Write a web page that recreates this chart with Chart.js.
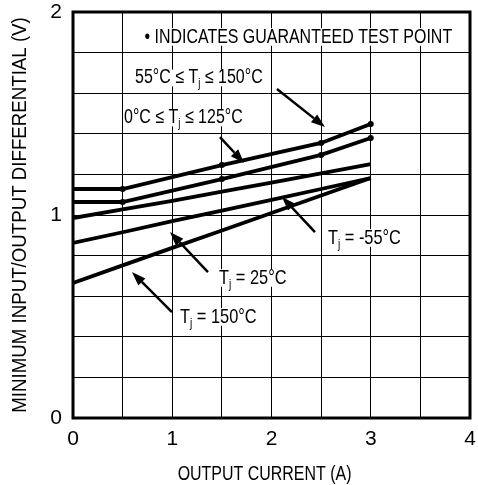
<!DOCTYPE html>
<html>
<head>
<meta charset="utf-8">
<script src="https://cdn.jsdelivr.net/npm/chart.js@4.4.0/dist/chart.umd.min.js"></script>
<style>
  html, body { margin: 0; padding: 0; background: #fff; }
  #wrap { width: 478px; height: 485px; position: relative; }
</style>
</head>
<body>
<div id="wrap"><canvas id="chart"></canvas></div>
<script>
'use strict';

// output current (A) where each curve was read
const X_TEST = [0, 0.5, 1.5, 2.5, 3];
const X_LIN = [0, 0.5, 1, 1.5, 2, 2.5, 3];

// minimum input/output differential (V)
const V_55_150 = [1.128, 1.128, 1.246, 1.355, 1.448];
const V_0_125 = [1.064, 1.064, 1.177, 1.296, 1.379];
const V_M55 = [0.985, 1.028, 1.07, 1.115, 1.16, 1.205, 1.251];
const V_25 = [0.862, 0.915, 0.97, 1.022, 1.075, 1.128, 1.182];
const V_150 = [0.665, 0.752, 0.838, 0.924, 1.01, 1.096, 1.182];

// test points are marked on the upper two curves (not at 0 A)
const TEST_RADIUS = [0, 3, 3, 3, 3];

const X_TICK_LABELS = ['0', '1', '2', '3', '4'];
const Y_TICK_LABELS = ['0', '1', '2'];

const X_TITLE = 'OUTPUT CURRENT (A)';
const Y_TITLE = 'MINIMUM INPUT/OUTPUT DIFFERENTIAL (V)';

const FONT = "'Liberation Sans', Arial, sans-serif";

// annotation labels in data units; the second part is the subscript
const NOTES = [
  { parts: ['\u2022 INDICATES GUARANTEED TEST POINT'], x: 0.72, y: 1.877, size: 21, sq: 0.76 },
  { parts: ['55\u00b0C \u2264 T', 'j', ' \u2264 150\u00b0C'], x: 0.625, y: 1.675, size: 20, sq: 0.8 },
  { parts: ['0\u00b0C \u2264 T', 'j', ' \u2264 125\u00b0C'], x: 0.514, y: 1.478, size: 20, sq: 0.8 },
  { parts: ['T', 'j', ' = -55\u00b0C'], x: 2.569, y: 0.887, size: 21, sq: 0.78 },
  { parts: ['T', 'j', ' = 25\u00b0C'], x: 1.471, y: 0.69, size: 21, sq: 0.78 },
  { parts: ['T', 'j', ' = 150\u00b0C'], x: 1.078, y: 0.4975, size: 21, sq: 0.78 }
];

// arrows in data units: from -> to (head at "to")
const ARROWS = [
  [2.055, 1.621, 2.539, 1.433],
  [1.481, 1.384, 1.723, 1.256],
  [2.438, 0.916, 2.106, 1.089],
  [1.36, 0.719, 0.977, 0.916],
  [0.997, 0.522, 0.594, 0.719]
];

function pts(xs, ys) {
  return xs.map((x, i) => ({ x: x, y: ys[i] }));
}

function curve(xs, ys, radius) {
  return {
    data: pts(xs, ys),
    borderColor: '#000',
    backgroundColor: '#000',
    borderWidth: 3.8,
    pointRadius: radius || 0,
    pointBorderWidth: 0,
    tension: 0,
    fill: false
  };
}

// the original uses a condensed face; squeeze Liberation Sans to match
function squeezedText(ctx, text, x, y, size, squeeze) {
  ctx.save();
  ctx.font = size + 'px ' + FONT;
  ctx.translate(x, y);
  ctx.scale(squeeze, 1);
  ctx.fillText(text, 0, 0);
  ctx.restore();
}

const annotations = {
  id: 'annotations',
  afterDraw(chart) {
    const ctx = chart.ctx;
    const xs = chart.scales.x;
    const ys = chart.scales.y;
    const area = chart.chartArea;
    ctx.save();
    // heavy frame
    ctx.strokeStyle = '#000';
    ctx.lineWidth = 3;
    ctx.strokeRect(area.left, area.top, area.right - area.left, area.bottom - area.top);

    // arrows
    ctx.lineWidth = 2.5;
    ctx.fillStyle = '#000';
    for (const a of ARROWS) {
      const x1 = xs.getPixelForValue(a[0]), y1 = ys.getPixelForValue(a[1]);
      const x2 = xs.getPixelForValue(a[2]), y2 = ys.getPixelForValue(a[3]);
      const ang = Math.atan2(y2 - y1, x2 - x1);
      const hl = 14, hw = 5;
      const bx = x2 - hl * Math.cos(ang), by = y2 - hl * Math.sin(ang);
      ctx.beginPath();
      ctx.moveTo(x1, y1);
      ctx.lineTo(bx, by);
      ctx.stroke();
      ctx.beginPath();
      ctx.moveTo(x2, y2);
      ctx.lineTo(bx + hw * Math.sin(ang), by - hw * Math.cos(ang));
      ctx.lineTo(bx - hw * Math.sin(ang), by + hw * Math.cos(ang));
      ctx.closePath();
      ctx.fill();
    }

    // labels, with white knock-out behind them
    ctx.textBaseline = 'middle';
    ctx.textAlign = 'left';
    for (const n of NOTES) {
      let px = xs.getPixelForValue(n.x);
      const py = ys.getPixelForValue(n.y);
      n.parts.forEach((t, i) => {
        const sub = i === 1;
        const size = sub ? Math.round(n.size * 0.6) : n.size;
        ctx.font = size + 'px ' + FONT;
        const w = ctx.measureText(t).width * n.sq;
        ctx.fillStyle = '#fff';
        ctx.fillRect(px, py - n.size * 0.42, w, n.size * 0.84);
        ctx.fillStyle = '#000';
        squeezedText(ctx, t, px, sub ? py + n.size * 0.3 : py, size, n.sq);
        px += w;
      });
    }

    // axis titles
    ctx.textAlign = 'center';
    squeezedText(ctx, X_TITLE, xs.getPixelForValue(1.93), 474, 21, 0.76);
    ctx.save();
    ctx.translate(20, (area.top + area.bottom) / 2);
    ctx.rotate(-Math.PI / 2);
    squeezedText(ctx, Y_TITLE, 0, 0, 21, 0.89);
    ctx.restore();
    ctx.restore();
  }
};

new Chart(document.getElementById('chart'), {
  type: 'line',
  data: {
    datasets: [
      curve(X_TEST, V_55_150, TEST_RADIUS),
      curve(X_TEST, V_0_125, TEST_RADIUS),
      curve(X_LIN, V_M55),
      curve(X_LIN, V_25),
      curve(X_LIN, V_150)
    ]
  },
  options: {
    responsive: true,
    maintainAspectRatio: false,
    animation: false,
    layout: { padding: { top: 12, right: 8, left: 0, bottom: 0 } },
    plugins: { legend: { display: false }, tooltip: { enabled: false } },
    scales: {
      x: {
        type: 'linear',
        min: 0,
        max: 4,
        afterFit(s) {
          s.height = 67;
          s.paddingLeft = 0;
          s.paddingRight = 0;
        },
        border: { display: false },
        grid: { color: '#000', lineWidth: 1, drawTicks: false },
        ticks: {
          stepSize: 0.5,
          padding: 9,
          color: '#000',
          font: { family: FONT, size: 21 },
          maxRotation: 0,
          autoSkip: false,
          callback(v) {
            const i = X_TICK_LABELS.indexOf(String(v));
            return i >= 0 ? X_TICK_LABELS[i] : '';
          }
        }
      },
      y: {
        type: 'linear',
        min: 0,
        max: 2,
        afterFit(s) {
          s.width = 73;
          s.paddingTop = 0;
          s.paddingBottom = 0;
        },
        border: { display: false },
        grid: { color: '#000', lineWidth: 1, drawTicks: false },
        ticks: {
          stepSize: 0.2,
          padding: 11,
          color: '#000',
          font: { family: FONT, size: 21 },
          autoSkip: false,
          callback(v) {
            const r = Math.round(v * 10) / 10;
            const i = Y_TICK_LABELS.indexOf(String(r));
            return i >= 0 ? Y_TICK_LABELS[i] : '';
          }
        }
      }
    }
  },
  plugins: [annotations]
});
</script>
</body>
</html>
